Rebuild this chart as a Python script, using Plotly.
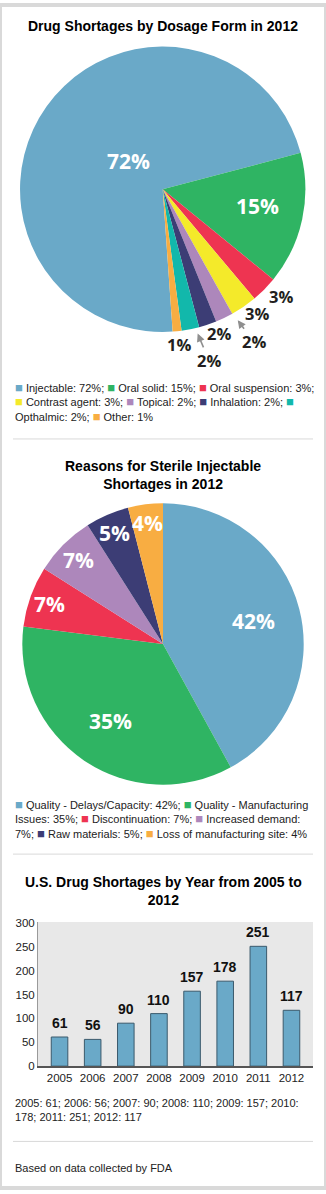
import math
import plotly.graph_objects as go

W, H = 326, 1194

# --- Drug shortages by dosage form, 2012 (percent) ---
form_labels = ["Injectable", "Oral solid", "Oral suspension", "Contrast agent",
               "Topical", "Inhalation", "Opthalmic", "Other"]
form_values = [72, 15, 3, 3, 2, 2, 2, 1]
form_colors = ["#6aa9c8", "#2fb463", "#ee3451", "#f4ea2a",
               "#ad87bb", "#3c3d75", "#12b8ab", "#f8ad42"]

# --- Reasons for sterile injectable shortages, 2012 (percent) ---
reason_labels = ["Quality - Delays/Capacity", "Quality - Manufacturing Issues",
                 "Discontinuation", "Increased demand", "Raw materials",
                 "Loss of manufacturing site"]
reason_values = [42, 35, 7, 7, 5, 4]
reason_colors = ["#6aa9c8", "#2fb463", "#ee3451", "#ad87bb", "#3c3d75", "#f8ad42"]

# --- U.S. drug shortages per year ---
years = ["2005", "2006", "2007", "2008", "2009", "2010", "2011", "2012"]
shortage_counts = [61, 56, 90, 110, 157, 178, 251, 117]
y_ticks = [0, 50, 100, 150, 200, 250, 300]

TEXT_FONT = "Liberation Sans, Arial, sans-serif"
PCT_FONT = "Open Sans, sans-serif"


def px(x):
    return x / W


def py(y):
    return 1 - y / H


def mid_angles(values, rotation):
    """Mid angle (deg, clockwise from 12 o'clock) of each clockwise slice."""
    total = float(sum(values))
    out, acc = [], rotation
    for v in values:
        span = 360.0 * v / total
        out.append(acc + span / 2)
        acc += span
    return out


def polar(cx, cy, r, ang):
    a = math.radians(ang)
    return cx + r * math.sin(a), cy - r * math.cos(a)


fig = go.Figure()
annotations = []
shapes = []

# ---------------- Pie 1 ----------------
P1_CX, P1_CY, P1_R, P1_ROT = 162.7, 186.0, 144.0, 176
fig.add_trace(go.Pie(
    labels=form_labels, values=form_values, sort=False, direction="clockwise",
    rotation=P1_ROT, marker=dict(colors=form_colors, line=dict(width=0)),
    textinfo="none", hoverinfo="label+percent", showlegend=False,
    domain=dict(x=[px(P1_CX - P1_R), px(P1_CX + P1_R)],
                y=[py(P1_CY + P1_R), py(P1_CY - P1_R)]),
))

# label style per slice: (radius factor, angle nudge, size, colour, arrow tip or None)
p1_style = [
    (0.31, 4.8, 21, "white", None),
    (0.67, -1.9, 21, "white", None),
    (1.115, -2.3, 16.5, "#231f20", None),
    (1.09, -2.3, 16.5, "#231f20", None),
    (1.24, -5.0, 16.5, "#231f20", (1.055, -4.0)),
    (1.085, -2.6, 16.5, "#231f20", None),
    (1.24, -3.8, 16.5, "#231f20", (1.04, -2.3)),
    (1.09, 0.0, 16.5, "#231f20", None),
]
for v, ang, (rf, nudge, size, col, tip) in zip(
        form_values, mid_angles(form_values, P1_ROT), p1_style):
    tx, ty = polar(P1_CX, P1_CY, P1_R * rf, ang + nudge)
    font = dict(family=PCT_FONT, size=size, color=col, weight="bold")
    if tip is None:
        annotations.append(dict(x=px(tx), y=py(ty), xref="paper", yref="paper",
                                text=f"{v}%", showarrow=False, font=font,
                                xanchor="center", yanchor="middle"))
    else:
        ax_, ay_ = polar(P1_CX, P1_CY, P1_R * tip[0], ang + tip[1])
        annotations.append(dict(x=px(ax_), y=py(ay_), xref="paper", yref="paper",
                                text=f"{v}%", showarrow=True, font=font,
                                ax=tx - ax_, ay=ty - ay_, arrowhead=2,
                                arrowsize=1, arrowwidth=1.6,
                                arrowcolor="#8f8f8f", standoff=0))

# ---------------- Pie 2 ----------------
P2_CX, P2_CY, P2_R, P2_ROT = 163.0, 645.0, 142.0, 0
fig.add_trace(go.Pie(
    labels=reason_labels, values=reason_values, sort=False, direction="clockwise",
    rotation=P2_ROT, marker=dict(colors=reason_colors, line=dict(width=0)),
    textinfo="none", hoverinfo="label+percent", showlegend=False,
    domain=dict(x=[px(P2_CX - P2_R), px(P2_CX + P2_R)],
                y=[py(P2_CY + P2_R), py(P2_CY - P2_R)]),
))
p2_radius = [0.66, 0.66, 0.85, 0.84, 0.86, 0.87]
for v, ang, rf in zip(reason_values, mid_angles(reason_values, P2_ROT), p2_radius):
    tx, ty = polar(P2_CX, P2_CY, P2_R * rf, ang)
    annotations.append(dict(x=px(tx), y=py(ty), xref="paper", yref="paper",
                            text=f"{v}%", showarrow=False,
                            font=dict(family=PCT_FONT, size=21, color="white",
                                      weight="bold"),
                            xanchor="center", yanchor="middle"))

# ---------------- Bar chart ----------------
fig.add_trace(go.Bar(
    x=years, y=shortage_counts, width=0.5,
    marker=dict(color="#6aa9c8", line=dict(color="#3b5a6c", width=1)),
    showlegend=False, hoverinfo="x+y",
))
# value labels sit a little above each bar (category axis -> serial index)
for i, v in enumerate(shortage_counts):
    annotations.append(dict(x=i, y=v, xref="x", yref="y", text=str(v),
                            showarrow=False, yanchor="bottom", yshift=4,
                            font=dict(family=TEXT_FONT, size=14, color="#111",
                                      weight="bold")))

BAR_TOP, BAR_BOTTOM, BAR_LEFT, BAR_RIGHT = 925.5, 1071.0, 38.0, 313.0

fig.update_layout(
    xaxis=dict(domain=[px(BAR_LEFT), px(BAR_RIGHT)], type="category",
               range=[-0.65, 7.65], showline=True, linecolor="#555",
               linewidth=1.5, ticks="", showgrid=False, fixedrange=True,
               tickfont=dict(family=TEXT_FONT, size=11.5, color="#222")),
    yaxis=dict(domain=[py(BAR_BOTTOM), py(BAR_TOP)], range=[0, 302],
               tickvals=y_ticks, showgrid=False, zeroline=False,
               showline=True, linecolor="#9a9a9a", linewidth=1, ticks="",
               fixedrange=True,
               tickfont=dict(family=TEXT_FONT, size=11.5, color="#222")),
    plot_bgcolor="#e8e8e8",
)


# ---------------- Titles, legends, separators ----------------
def title(text, y):
    annotations.append(dict(x=px(163), y=py(y), xref="paper", yref="paper",
                            text=text, showarrow=False, xanchor="center",
                            yanchor="middle",
                            font=dict(family=TEXT_FONT, size=14, color="#000",
                                      weight="bold")))


def swatch(col):
    return f'<span style="color:{col};font-size:13px">■</span>'


def wrap(words, words_per_line):
    lines, i = [], 0
    for n in words_per_line:
        lines.append(" ".join(words[i:i + n]))
        i += n
    return "<br>".join(lines)


def legend_text(labels, values, colors, words_per_line, suffix="%"):
    words = []
    for lab, val, col in zip(labels, values, colors):
        words.append(swatch(col))
        words.extend(f"{lab}: {val}{suffix}".split(" "))
        words[-1] += ";"
    words[-1] = words[-1].rstrip(";")
    return wrap(words, words_per_line)


def plain_legend(pairs, words_per_line):
    words = []
    for k, v in pairs:
        words.extend([f"{k}:", f"{v};"])
    words[-1] = words[-1].rstrip(";")
    return wrap(words, words_per_line)


def block(text, y_top):
    annotations.append(dict(x=px(12.5), y=py(y_top), xref="paper", yref="paper",
                            text=text, showarrow=False, xanchor="left",
                            yanchor="top", align="left",
                            font=dict(family=TEXT_FONT, size=11, color="#222")))


def separator(y):
    shapes.append(dict(type="line", xref="paper", yref="paper",
                       x0=px(13), x1=px(313), y0=py(y), y1=py(y),
                       line=dict(color="#d9d9d9", width=1)))


title("Drug Shortages by Dosage Form in 2012", 21)
block(legend_text(form_labels, form_values, form_colors, [11, 11, 5]), 376.5)
separator(438)

title("Reasons for Sterile Injectable<br>Shortages in 2012", 474)
block(legend_text(reason_labels, reason_values, reason_colors, [9, 8, 11]), 797)
separator(857)

title("U.S. Drug Shortages by Year from 2005 to<br>2012", 894)
block(plain_legend(zip(years, shortage_counts), [11, 5]), 1100)
separator(1147)
block("Based on data collected by FDA", 1166)

# outer frame
shapes.append(dict(type="rect", xref="paper", yref="paper", x0=0, x1=1, y0=0,
                   y1=1, line=dict(color="#d9d9d9", width=4)))

fig.update_layout(
    width=W, height=H, margin=dict(l=0, r=0, t=0, b=0),
    paper_bgcolor="white", annotations=annotations, shapes=shapes,
    showlegend=False,
)

fig.write_html("out.html")
